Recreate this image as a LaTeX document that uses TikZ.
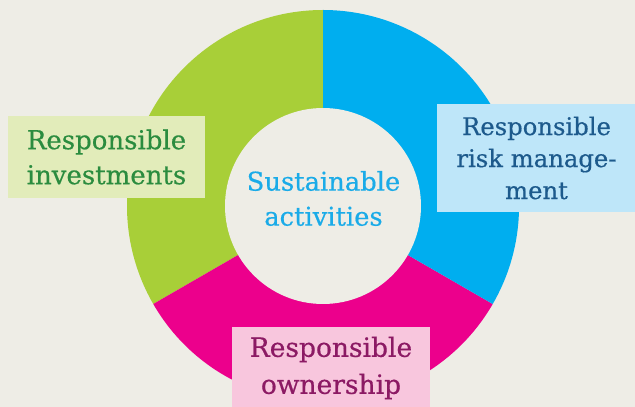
\documentclass[tikz,border=0pt]{standalone}
\usepackage{fontspec}
\setmainfont[FakeBold=0.5]{DejaVu Serif}
\definecolor{bg}{HTML}{EEEDE6}
\definecolor{segG}{HTML}{A8CF38}
\definecolor{segB}{HTML}{00AEEF}
\definecolor{segM}{HTML}{EC008C}
\definecolor{boxG}{HTML}{E2ECBA}
\definecolor{txtG}{HTML}{2B8C3F}
\definecolor{boxB}{HTML}{BEE6F9}
\definecolor{txtB}{HTML}{1D5A8C}
\definecolor{boxM}{HTML}{F8C6DD}
\definecolor{txtM}{HTML}{8C1A64}
\definecolor{txtC}{HTML}{1AABE8}
\tikzset{
  labelbox/.style={rectangle, inner sep=0pt, align=center},
}
\begin{document}
\begin{tikzpicture}[x=1pt,y=1pt]
\useasboundingbox (0,0) rectangle (635,407);
\fill[bg] (0,0) rectangle (635,407);
\coordinate (c) at (323,201);
% ring segments
\fill[segG] (c) -- ++(90:196) arc[start angle=90,end angle=210,radius=196] -- cycle;
\fill[segM] (c) -- ++(210:196) arc[start angle=210,end angle=330,radius=196] -- cycle;
\fill[segB] (c) -- ++(330:196) arc[start angle=-30,end angle=90,radius=196] -- cycle;
\fill[bg] (c) circle[radius=98];
% labels
\node[labelbox, fill=boxG, minimum width=197pt, minimum height=82pt, text=txtG,
      font=\fontsize{26}{35}\selectfont] (inv) at (106.5,250) {Responsible\\investments};
\node[labelbox, fill=boxB, minimum width=199pt, minimum height=108pt, text=txtB,
      font=\fontsize{24.3}{32}\selectfont] (risk) at (536.5,249) {Responsible\\risk manage-\\ment};
\node[labelbox, fill=boxM, minimum width=198pt, minimum height=82pt, text=txtM,
      font=\fontsize{26.5}{37}\selectfont] (own) at (331,39) {Responsible\\ownership};
\node[labelbox, text=txtC, font=\fontsize{25.8}{35}\selectfont] (sus) at (323.5,208.5) {Sustainable\\activities};
\end{tikzpicture}
\end{document}
